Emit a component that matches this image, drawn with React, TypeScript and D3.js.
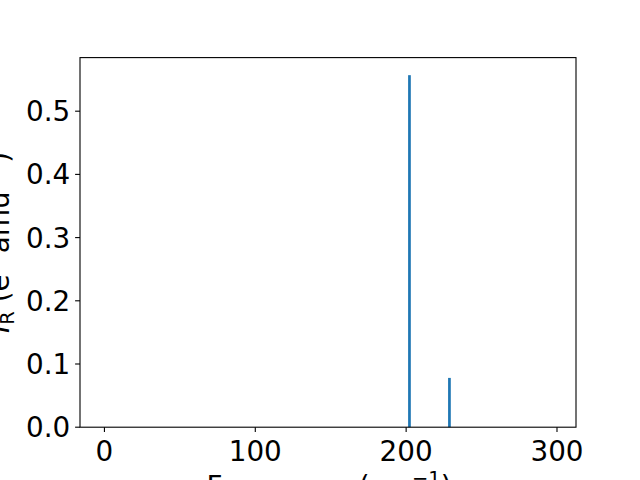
import React from "react";
import * as d3 from "d3";

const frequencies = [202.2, 228.7];
const intensities = [0.557, 0.078];
const xTicks = [0, 100, 200, 300];
const yTicks = [0.0, 0.1, 0.2, 0.3, 0.4, 0.5];

const W = 640;
const H = 480;
const left = 80;
const right = 576;
const top = 57.6;
const bottom = 427.2;
const FS = 27.8;
const FONT = "'DejaVu Sans', sans-serif";
const BAR_W = 1.8;

export default function App() {
  const x = d3.scaleLinear().domain([-16.2, 312.6]).range([left, right]);
  const y = d3.scaleLinear().domain([0, 0.5848]).range([bottom, top]);
  const bw = x(BAR_W) - x(0);

  return (
    <svg
      width={W}
      height={H}
      style={{ position: "absolute", left: 0, top: 0, background: "#fff" }}
      fontFamily={FONT}
    >
      <rect x={0} y={0} width={W} height={H} fill="#fff" />
      {frequencies.map((f, i) => (
        <rect
          key={i}
          x={x(f) - bw / 2}
          y={y(intensities[i])}
          width={bw}
          height={y(0) - y(intensities[i])}
          fill="#1f77b4"
        />
      ))}
      <rect
        x={left}
        y={top}
        width={right - left}
        height={bottom - top}
        fill="none"
        stroke="#000"
        strokeWidth={1.1}
      />
      {xTicks.map((t) => (
        <g key={t}>
          <line x1={x(t)} x2={x(t)} y1={bottom} y2={bottom + 4.9} stroke="#000" strokeWidth={1.1} />
          <text x={x(t)} y={460.5} fontSize={FS} textAnchor="middle" fill="#000">
            {String(t)}
          </text>
        </g>
      ))}
      {yTicks.map((t) => (
        <g key={t}>
          <line x1={left - 4.9} x2={left} y1={y(t)} y2={y(t)} stroke="#000" strokeWidth={1.1} />
          <text
            x={left - 9.8}
            y={y(t)}
            dy="0.36em"
            fontSize={FS}
            textAnchor="end"
            fill="#000"
          >
            {t.toFixed(1)}
          </text>
        </g>
      ))}
      <text x={329} y={496} fontSize={FS} textAnchor="middle" fill="#000">
        Frequency (cm
        <tspan fontSize={FS * 0.7} dy={-FS * 0.4}>−1</tspan>
        <tspan dy={FS * 0.4}>)</tspan>
      </text>
      <text
        transform={`translate(8.5, ${(top + bottom) / 2}) rotate(-90)`}
        fontSize={FS}
        textAnchor="middle"
        fill="#000"
      >
        <tspan fontStyle="italic">I</tspan>
        <tspan fontSize={FS * 0.7} dy={FS * 0.2}>R</tspan>
        <tspan dy={-FS * 0.2}> (e</tspan>
        <tspan fontSize={FS * 0.7} dy={-FS * 0.4}>2</tspan>
        <tspan dy={FS * 0.4}> amu</tspan>
        <tspan fontSize={FS * 0.7} dy={-FS * 0.4}>−1</tspan>
        <tspan dy={FS * 0.4}>)</tspan>
      </text>
    </svg>
  );
}
